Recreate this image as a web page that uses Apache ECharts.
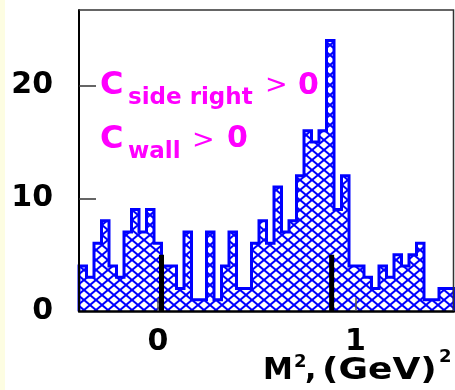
<!DOCTYPE html>
<html><head><meta charset="utf-8">
<script src="https://cdn.jsdelivr.net/npm/echarts@6/dist/echarts.min.js"></script>
<style>html,body{margin:0;padding:0;background:#fff;}#c{width:455px;height:390px;}</style>
</head><body><div id="c"></div>
<script>
// ---- data ----
const xMin = -0.4;
const xMax = 1.5;
const binWidth = 0.038;
const counts = [4,3,6,8,4,3,7,9,7,9,6,
                4,4,2,7,1,1,7,1,4,7,2,2,6,8,
                6,11,7,8,12,16,15,16,24,9,12,4,4,
                3,2,4,3,5,4,5,6,1,1,2,2];
const markerX = [0.018, 0.88];
const markerHeight = 5;
const xTickValues = [0, 1];
const yLabelValues = [0, 10, 20];
const yTickValues = [10, 20];
const yMax = 26.7;

// ---- build ----
const edges = counts.map((_, k) => +(xMin + k * binWidth).toFixed(5));
const stepData = [[xMin, 0]];
counts.forEach((v, k) => stepData.push([edges[k], v]));
stepData.push([xMax, counts[counts.length - 1]]);
stepData.push([xMax, 0]);

function hatch() {
  const w = 12, h = 10;
  const c = document.createElement('canvas');
  c.width = w; c.height = h;
  const g = c.getContext('2d');
  g.fillStyle = '#ffffff'; g.fillRect(0, 0, w, h);
  g.strokeStyle = '#0000ff'; g.lineWidth = 2.1;
  for (const dx of [-w, 0, w]) {
    g.beginPath();
    g.moveTo(dx - 1, -h / w); g.lineTo(dx + w + 1, h + h / w);
    g.moveTo(dx - 1, h + h / w); g.lineTo(dx + w + 1, -h / w);
    g.stroke();
  }
  return c;
}

const FF = '"DejaVu Sans", sans-serif';
const MAG = '#ff00ff';
function txt(x, y, s, size, weight, color, extra) {
  return Object.assign({ type: 'text', x: x, y: y, z: 10,
    style: { text: s, fontFamily: FF, fontSize: size, fontWeight: weight, fill: color,
             align: 'left', verticalAlign: 'middle' } }, extra || {});
}

const chart = echarts.init(document.getElementById('c'), null, { renderer: 'canvas' });
const labelStyle = { color: '#000', fontFamily: FF, fontWeight: 'bold', fontSize: 30 };
const graphics = [
  { type: 'rect', shape: { x: 0, y: 0, width: 5, height: 390 }, style: { fill: '#fdfde2' }, z: 0 },
  txt(100, 86, 'C', 32, 'bold', MAG),
  txt(128, 98, 'side right', 23, 'bold', MAG),
  txt(265, 86, '>', 27, 'normal', MAG),
  txt(298, 86, '0', 30, 'bold', MAG),
  txt(100, 140, 'C', 32, 'bold', MAG),
  txt(128, 152, 'wall', 23, 'bold', MAG),
  txt(192, 141, '>', 27, 'normal', MAG),
  txt(227, 139, '0', 30, 'bold', MAG),
  txt(263, 371, 'M', 30, 'bold', '#000'),
  txt(294, 362, '2', 18, 'bold', '#000'),
  txt(305, 371, ',', 30, 'bold', '#000'),
  txt(322, 371, '(GeV)', 30, 'bold', '#000', { scaleX: 1.2 }),
  txt(439, 357, '2', 18, 'bold', '#000')
];
chart.setOption({
  animation: false,
  backgroundColor: '#ffffff',
  grid: { left: 79, right: 1, top: 10, bottom: 79 },
  xAxis: {
    type: 'value', min: xMin, max: xMax, z: 5,
    axisLine: { show: true, onZero: false, lineStyle: { color: '#000', width: 2.5 } },
    axisTick: { show: true, inside: true, length: 13, customValues: xTickValues, lineStyle: { color: '#555', width: 1.5 } },
    axisLabel: Object.assign({ customValues: xTickValues, margin: 16, formatter: v => String(v) }, labelStyle),
    splitLine: { show: false }
  },
  yAxis: {
    type: 'value', min: 0, max: yMax, z: 5,
    axisLine: { show: true, onZero: false, lineStyle: { color: '#000', width: 2 } },
    axisTick: { show: true, inside: true, length: 17, customValues: yTickValues, lineStyle: { color: '#333', width: 1.5 } },
    axisLabel: Object.assign({ customValues: yLabelValues, margin: 26, formatter: v => String(v) }, labelStyle),
    splitLine: { show: false }
  },
  series: [
    { type: 'line', step: 'end', data: stepData, symbol: 'none', z: 2,
      lineStyle: { color: '#0000ff', width: 3, join: 'miter' },
      areaStyle: { color: { image: hatch(), repeat: 'repeat' }, opacity: 1 } }
  ].concat(markerX.map(x => ({
      type: 'line', data: [[x, 0], [x, markerHeight]], symbol: 'none', z: 3,
      lineStyle: { color: '#000', width: 5 } }))),
  graphic: graphics
});
// frame around the plot area, positioned through the axes' own scales
const tl = chart.convertToPixel({ gridIndex: 0 }, [xMin, yMax]);
const br = chart.convertToPixel({ gridIndex: 0 }, [xMax, 0]);
chart.setOption({ graphic: graphics.concat([{
  type: 'polyline', z: 9, silent: true,
  shape: { points: [[tl[0], tl[1]], [br[0] - 0.5, tl[1]], [br[0] - 0.5, br[1]]] },
  style: { stroke: '#333', lineWidth: 1.5, fill: null }
}]) });
</script>
</body></html>
